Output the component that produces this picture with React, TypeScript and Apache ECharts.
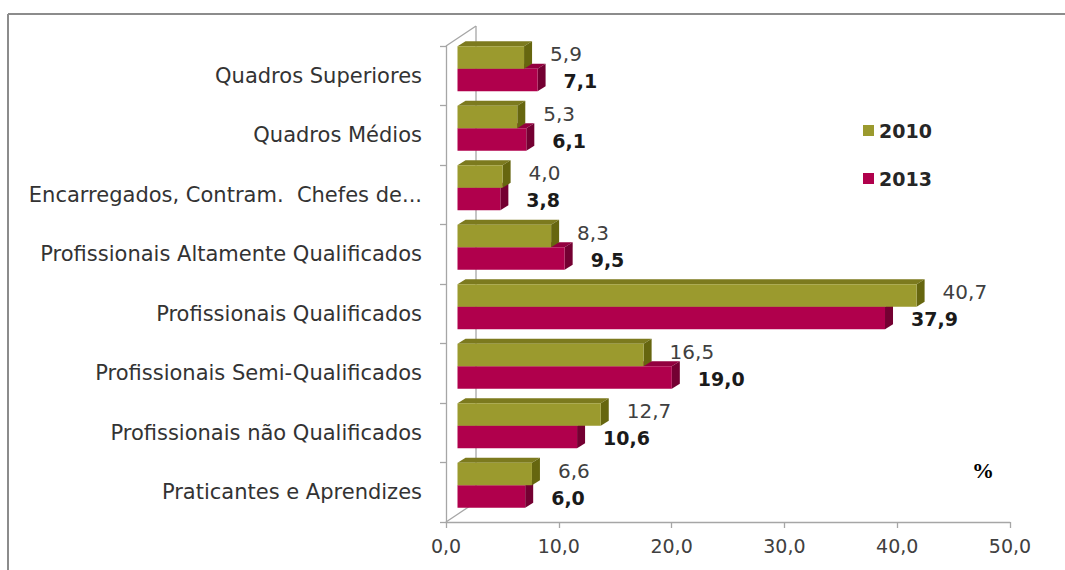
import { useEffect, useRef } from "react";
import * as echarts from "echarts";

const categories = [
  "Quadros Superiores",
  "Quadros Médios",
  "Encarregados, Contram.  Chefes de...",
  "Profissionais Altamente Qualificados",
  "Profissionais Qualificados",
  "Profissionais Semi-Qualificados",
  "Profissionais não Qualificados",
  "Praticantes e Aprendizes",
];
const values2010 = [5.9, 5.3, 4.0, 8.3, 40.7, 16.5, 12.7, 6.6];
const values2013 = [7.1, 6.1, 3.8, 9.5, 37.9, 19.0, 10.6, 6.0];
const seriesNames = ["2010", "2013"];
const xMin = 0;
const xMax = 50;
const xStep = 10;
const unitLabel = "%";

const W = 1065;
const H = 570;
const FRONT = { left: 446, top: 46, width: 564, height: 476 };
const BAR_SHIFT = { x: 11.5, y: -7 };
const WALL_SHIFT = { x: 30, y: -20 };
const DEPTH = { x: 8, y: 5 };
const FONT = "'DejaVu Sans', sans-serif";

const COLORS = [
  { front: "#9b9a2e", top: "#7c7a1e", side: "#66660f", legend: "#9b9a2e" },
  { front: "#b0004c", top: "#93003f", side: "#740032", legend: "#b0004c" },
];

const fmt = (v: number) => v.toFixed(1).replace(".", ",");

function makeRender(kind: number) {
  const c = COLORS[kind];
  return (params: any, api: any) => {
    const cat = api.value(0);
    const val = api.value(1);
    const start = api.coord([0, cat]);
    const end = api.coord([val, cat]);
    const band = api.size([0, 1])[1];
    const barH = band * 0.38;
    const cy = start[1];
    const y0 = kind === 0 ? cy - barH : cy;
    const y1 = y0 + barH;
    const x0 = start[0];
    const x1 = end[0];
    const dx = DEPTH.x;
    const dy = DEPTH.y;
    return {
      type: "group",
      children: [
        {
          type: "polygon",
          shape: { points: [[x0, y0], [x0 + dx, y0 - dy], [x1 + dx, y0 - dy], [x1, y0]] },
          style: { fill: c.top },
        },
        {
          type: "polygon",
          shape: { points: [[x1, y0], [x1 + dx, y0 - dy], [x1 + dx, y1 - dy], [x1, y1]] },
          style: { fill: c.side },
        },
        {
          type: "rect",
          shape: { x: x0, y: y0, width: x1 - x0, height: barH },
          style: { fill: c.front },
        },
        {
          type: "text",
          x: x1 + 26,
          y: kind === 0 ? (y0 + y1) / 2 - 3 : (y0 + y1) / 2 + 1,
          style: {
            text: fmt(val),
            fill: kind === 0 ? "#404040" : "#1a1a1a",
            fontSize: kind === 0 ? 20 : 19,
            fontWeight: kind === 0 ? "normal" : "bold",
            fontFamily: FONT,
            align: "left",
            verticalAlign: "middle",
          },
        },
      ],
    };
  };
}

export default function App() {
  const ref = useRef<HTMLDivElement>(null);
  useEffect(() => {
    if (!ref.current) return;
    const chart = echarts.init(ref.current, undefined, { renderer: "svg" });
    const fl = FRONT.left;
    const ft = FRONT.top;
    const fb = FRONT.top + FRONT.height;
    const lineStyle = { stroke: "#a6a6a6", lineWidth: 1.3 };
    chart.setOption({
      animation: false,
      backgroundColor: "#ffffff",
      legend: {
        data: seriesNames.map((n) => ({ name: n, icon: "rect" })),
        orient: "vertical",
        left: 858,
        top: 115,
        itemWidth: 11,
        itemHeight: 11,
        itemGap: 27,
        itemStyle: { borderWidth: 0 },
        textStyle: { fontFamily: FONT, fontWeight: "bold", fontSize: 19, color: "#262626", lineHeight: 21 },
      },
      grid: [
        { left: FRONT.left, top: FRONT.top, width: FRONT.width, height: FRONT.height },
        {
          left: FRONT.left + BAR_SHIFT.x,
          top: FRONT.top + BAR_SHIFT.y,
          width: FRONT.width,
          height: FRONT.height,
        },
      ],
      xAxis: [
        {
          type: "value",
          gridIndex: 0,
          min: xMin,
          max: xMax,
          interval: xStep,
          axisLine: { show: true, lineStyle: { color: "#a6a6a6", width: 1.3 } },
          axisTick: { show: true, length: 6, lineStyle: { color: "#a6a6a6", width: 1.3 } },
          splitLine: { show: false },
          axisLabel: {
            formatter: (v: number) => fmt(v),
            color: "#404040",
            fontSize: 19,
            fontFamily: FONT,
            margin: 14,
          },
        },
        {
          type: "value",
          gridIndex: 1,
          min: xMin,
          max: xMax,
          interval: xStep,
          show: false,
        },
      ],
      yAxis: [
        {
          type: "category",
          gridIndex: 0,
          data: categories,
          inverse: true,
          axisLine: { show: true, lineStyle: { color: "#a6a6a6", width: 1.3 } },
          axisTick: { show: true, length: 6, lineStyle: { color: "#a6a6a6", width: 1.3 } },
          axisLabel: {
            color: "#333333",
            fontSize: 21,
            fontFamily: FONT,
            margin: 24,
          },
        },
        {
          type: "category",
          gridIndex: 1,
          data: categories,
          inverse: true,
          show: false,
        },
      ],
      graphic: [
        { type: "line", shape: { x1: 8, y1: 14, x2: W, y2: 14 }, style: { stroke: "#8c8c8c", lineWidth: 2 }, z: 0 },
        { type: "line", shape: { x1: 8, y1: 14, x2: 8, y2: H }, style: { stroke: "#8c8c8c", lineWidth: 2 }, z: 0 },
        {
          type: "line",
          shape: { x1: fl, y1: ft, x2: fl + WALL_SHIFT.x, y2: ft + WALL_SHIFT.y },
          style: lineStyle,
          z: 0,
        },
        {
          type: "line",
          shape: { x1: fl, y1: fb, x2: fl + WALL_SHIFT.x, y2: fb + WALL_SHIFT.y },
          style: lineStyle,
          z: 0,
        },
        {
          type: "line",
          shape: {
            x1: fl + WALL_SHIFT.x,
            y1: ft + WALL_SHIFT.y,
            x2: fl + WALL_SHIFT.x,
            y2: fb + WALL_SHIFT.y,
          },
          style: lineStyle,
          z: 0,
        },
        {
          type: "text",
          x: 983,
          y: 470,
          style: {
            text: unitLabel,
            fill: "#000000",
            fontSize: 22,
            fontWeight: "bold",
            fontFamily: "'Liberation Serif', 'DejaVu Serif', serif",
            align: "center",
            verticalAlign: "middle",
          },
          z: 5,
        },
      ],
      series: [
        {
          name: seriesNames[1],
          type: "custom",
          xAxisIndex: 1,
          yAxisIndex: 1,
          itemStyle: { color: COLORS[1].legend },
          encode: { x: 1, y: 0 },
          data: values2013.map((v, i) => [i, v]),
          renderItem: makeRender(1),
          z: 2,
        },
        {
          name: seriesNames[0],
          type: "custom",
          xAxisIndex: 1,
          yAxisIndex: 1,
          itemStyle: { color: COLORS[0].legend },
          encode: { x: 1, y: 0 },
          data: values2010.map((v, i) => [i, v]),
          renderItem: makeRender(0),
          z: 3,
        },
      ],
    });
    return () => chart.dispose();
  }, []);
  return (
    <div
      ref={ref}
      style={{ position: "absolute", left: 0, top: 0, width: W, height: H, background: "#fff" }}
    />
  );
}
